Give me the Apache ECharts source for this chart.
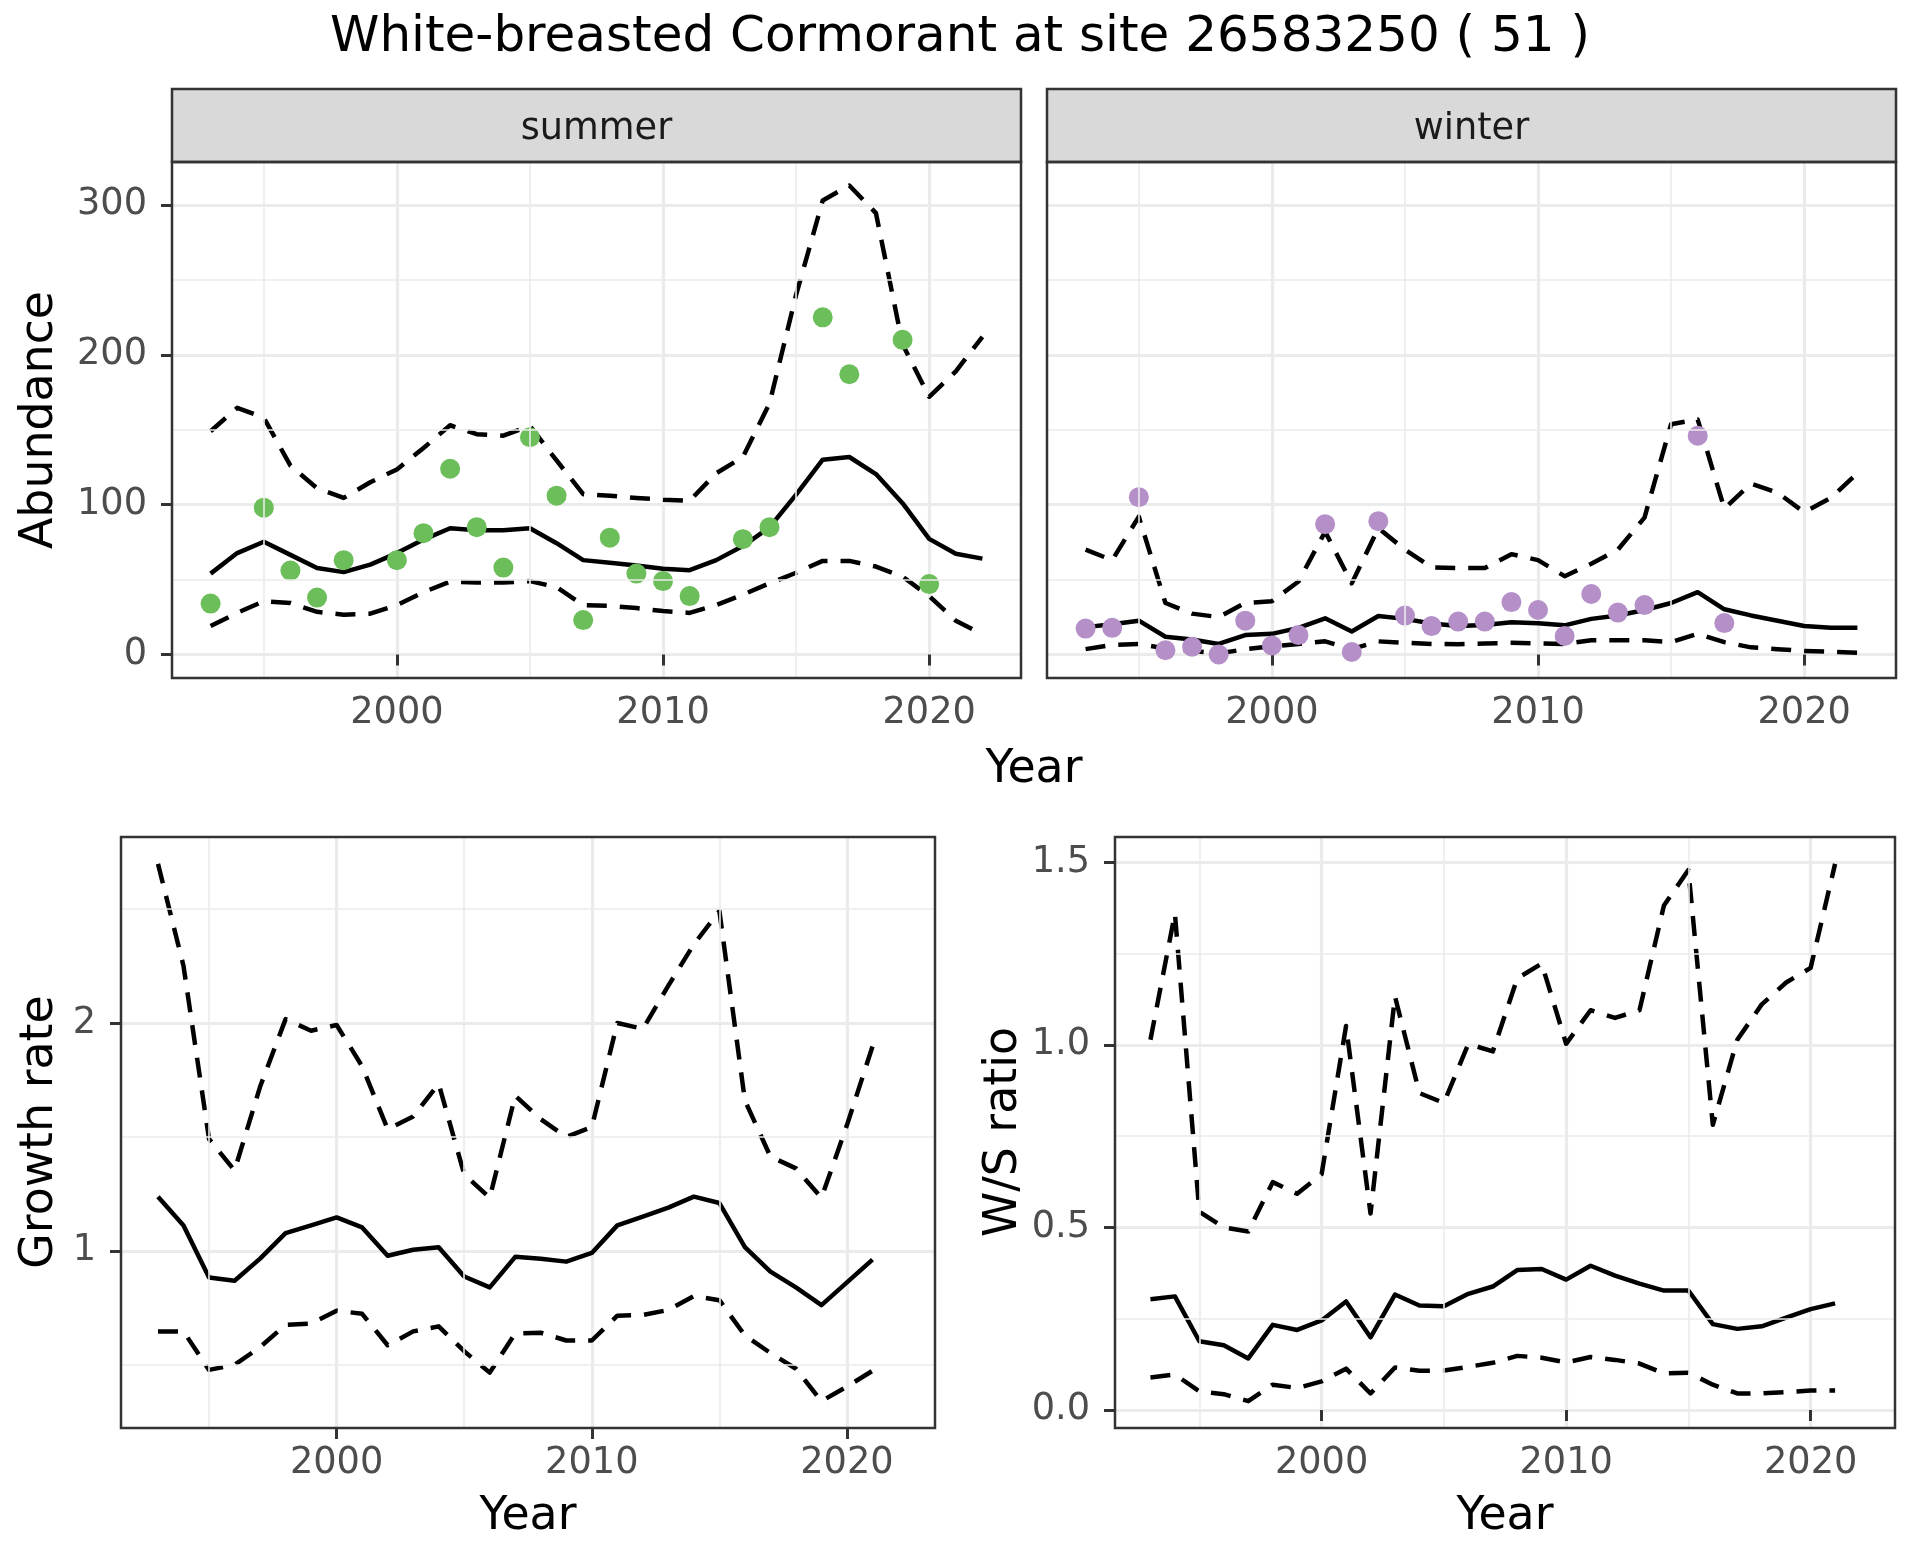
<!DOCTYPE html>
<html><head><meta charset="utf-8">
<script src="https://cdn.jsdelivr.net/npm/echarts@6/dist/echarts.min.js"></script>
<style>html,body{margin:0;padding:0;background:#fff}#c{width:1920px;height:1560px}</style>
</head><body><div id="c"></div>
<script>
// ---------- data ----------
const yearsAll = [1993,1994,1995,1996,1997,1998,1999,2000,2001,2002,2003,2004,2005,2006,2007,2008,2009,2010,2011,2012,2013,2014,2015,2016,2017,2018,2019,2020,2021,2022];
const yearsRate = [1993,1994,1995,1996,1997,1998,1999,2000,2001,2002,2003,2004,2005,2006,2007,2008,2009,2010,2011,2012,2013,2014,2015,2016,2017,2018,2019,2020,2021];

const summerPtYears = [1993,1995,1996,1997,1998,2000,2001,2002,2003,2004,2005,2006,2007,2008,2009,2010,2011,2013,2014,2016,2017,2019,2020];
const summerPtVals  = [34,98,56,38,63,63,81,124,85,58,145,106,23,78,54,49,39,77,85,225,187,210,47];
const summerMean  = [54,67.7,75.3,66.5,57.7,55,60,67.7,76.7,84.3,83,83,84.3,74.3,63,61.3,59.4,57.2,56.3,63,72.4,84.8,106.7,130,131.8,120.4,101,77.2,67.2,64];
const summerUpper = [149,164.6,158,126,111,104.5,115,123.5,137.8,153,147,146,152.5,129.5,107,106,104.5,103.3,102.6,121,131.8,167.5,240,303,313,294.5,207,172,189,212];
const summerLower = [19,27.8,35.6,34.4,28.5,26.6,27.3,33,41.6,48.7,48,48,49,45,33,32.5,31,29,27.8,33,40,47.5,54.6,62.5,62.5,58.7,52,39,22.6,13.5];

const winterPtYears = [1993,1994,1995,1996,1997,1998,1999,2000,2001,2002,2003,2004,2005,2006,2007,2008,2009,2010,2011,2012,2013,2014,2016,2017];
const winterPtVals  = [17.3,17.8,105,2.9,5.2,0,22.6,6,13,87,1.7,89,26,19,22,22,35,29.7,12.4,40.4,28,33,146,21];
const winterMean  = [18.3,20.2,22.6,11.9,10,7.1,13,13.8,17.8,24.2,15.4,25.7,23.8,20.7,19,19.7,21.6,20.9,19.5,23.8,26.1,29.7,34.4,41.6,30.2,26.1,22.6,19,17.8,17.8];
const winterUpper = [70,63,92,34.4,27.3,25,34.4,35.6,48.7,82,47.5,84.3,70,58.2,57.7,57.7,67,63,52.3,60.6,70,91.4,153.7,156.8,97.4,114,108,95,104.5,121];
const winterLower = [3.6,6.4,7.1,4,2.4,0.7,3.6,5.5,7.1,8.8,3.6,8.8,7.8,7.1,6.9,7.4,7.8,7.4,7.1,9.5,9.5,9.5,8.3,13.8,8.3,4.8,3.6,2.4,1.9,1.2];

const growthMean  = [1.238,1.112,0.883,0.869,0.966,1.078,1.112,1.147,1.103,0.979,1.005,1.016,0.888,0.84,0.974,0.966,0.953,0.991,1.112,1.15,1.19,1.238,1.21,1.017,0.909,0.84,0.762,0.862,0.962];
const growthUpper = [2.698,2.25,1.491,1.353,1.72,2.017,1.966,1.991,1.81,1.534,1.59,1.733,1.336,1.233,1.681,1.578,1.5,1.543,2.0,1.974,2.164,2.345,2.491,1.66,1.414,1.362,1.233,1.552,1.897];
const growthLower = [0.647,0.647,0.478,0.5,0.578,0.676,0.681,0.738,0.724,0.586,0.647,0.669,0.56,0.466,0.638,0.641,0.607,0.607,0.716,0.719,0.741,0.802,0.784,0.629,0.552,0.483,0.341,0.405,0.474];

const wsMean  = [0.303,0.311,0.188,0.177,0.141,0.233,0.219,0.245,0.297,0.199,0.316,0.286,0.284,0.318,0.338,0.383,0.386,0.357,0.395,0.368,0.346,0.327,0.327,0.235,0.222,0.229,0.253,0.276,0.292];
const wsUpper = [1.014,1.36,0.543,0.5,0.489,0.624,0.592,0.646,1.052,0.538,1.133,0.868,0.841,1.003,0.982,1.182,1.223,1.003,1.095,1.074,1.095,1.382,1.479,0.781,1.014,1.111,1.171,1.211,1.496];
const wsLower = [0.089,0.097,0.051,0.043,0.024,0.069,0.06,0.078,0.113,0.045,0.116,0.107,0.108,0.118,0.129,0.148,0.143,0.13,0.145,0.137,0.127,0.1,0.102,0.069,0.045,0.045,0.049,0.053,0.053];

// tick labels
const xMajor = [2000, 2010, 2020];
const xMinor = [1995, 2005, 2015];
const abMajor = [0, 100, 200, 300];
const abMinor = [50, 150, 250];
const grMajor = [1, 2];
const grMinor = [0.5, 1.5, 2.5];
const wsMajor = [0, 0.5, 1, 1.5];
const wsMinor = [0.25, 0.75, 1.25];

const titleText = 'White-breasted Cormorant at site 26583250 ( 51 )';
const stripLabels = ['summer', 'winter'];

// ---------- helpers ----------
const FONT = 'DejaVu Sans';
const GREEN = '#6CBE5A', PURPLE = '#B48FC8';
function expand(arrs) {
  let lo = Infinity, hi = -Infinity;
  arrs.forEach(a => a.forEach(v => { if (v < lo) lo = v; if (v > hi) hi = v; }));
  const p = (hi - lo) * 0.05;
  return [lo - p, hi + p];
}
const xr = expand([yearsAll]);
const abR = expand([summerPtVals, summerMean, summerUpper, summerLower, winterPtVals, winterMean, winterUpper, winterLower]);
const grR = expand([growthMean, growthUpper, growthLower]);
const wsR = expand([wsMean, wsUpper, wsLower]);

const grids = [
  {left: 172, top: 162, width: 849, height: 516},
  {left: 1047, top: 162, width: 849, height: 516},
  {left: 121, top: 837, width: 814, height: 591},
  {left: 1115, top: 837, width: 780, height: 591}
];

function xAxis(i) {
  return {
    type: 'value', gridIndex: i, min: xr[0], max: xr[1], splitNumber: 3,
    axisLine: {show: false},
    axisTick: {show: true, length: 11, customValues: xMajor, lineStyle: {color: '#333333', width: 3}},
    axisLabel: {show: true, customValues: xMajor,
      fontFamily: FONT, fontSize: 36.7, color: '#4D4D4D', margin: 17,
      formatter: v => String(Math.round(v))},
    splitLine: {show: true, lineStyle: {color: '#EBEBEB', width: 3.2}}
  };
}
function yAxis(i, r, major, split, showLab, fmt) {
  return {
    type: 'value', gridIndex: i, min: r[0], max: r[1], splitNumber: split,
    axisLine: {show: false},
    axisTick: {show: showLab, length: 11, customValues: major, lineStyle: {color: '#333333', width: 3}},
    axisLabel: {show: showLab, customValues: major,
      fontFamily: FONT, fontSize: 36.7, color: '#4D4D4D', margin: 25,
      formatter: fmt || (v => String(v))},
    splitLine: {show: true, lineStyle: {color: '#EBEBEB', width: 3.2}}
  };
}
function minorSeries(i, xm, ym) {
  return {
    type: 'line', xAxisIndex: i, yAxisIndex: i, data: [], z: 1, silent: true, animation: false,
    markLine: {
      silent: true, animation: false, symbol: ['none', 'none'], label: {show: false},
      lineStyle: {color: '#EBEBEB', width: 1.6, type: 'solid'},
      emphasis: {disabled: true},
      data: xm.map(v => ({xAxis: v})).concat(ym.map(v => ({yAxis: v})))
    }
  };
}
function lineSeries(i, xs, vals, dashed) {
  return {
    type: 'line', xAxisIndex: i, yAxisIndex: i, animation: false, silent: true,
    symbol: 'none', showSymbol: false, z: 3,
    lineStyle: {color: '#000000', width: 4.5, type: dashed ? [20, 13] : 'solid', cap: 'butt', join: 'round'},
    data: xs.map((x, k) => [x, vals[k]])
  };
}
function pointSeries(i, xs, vals, color) {
  return {
    type: 'scatter', xAxisIndex: i, yAxisIndex: i, animation: false, silent: true, z: 4,
    symbol: 'circle', symbolSize: 20, itemStyle: {color: color, opacity: 1},
    data: xs.map((x, k) => [x, vals[k]])
  };
}

const series = [
  minorSeries(0, xMinor, abMinor),
  minorSeries(1, xMinor, abMinor),
  minorSeries(2, xMinor, grMinor),
  minorSeries(3, xMinor, wsMinor),
  pointSeries(0, summerPtYears, summerPtVals, GREEN),
  lineSeries(0, yearsAll, summerMean, false),
  lineSeries(0, yearsAll, summerUpper, true),
  lineSeries(0, yearsAll, summerLower, true),
  pointSeries(1, winterPtYears, winterPtVals, PURPLE),
  lineSeries(1, yearsAll, winterMean, false),
  lineSeries(1, yearsAll, winterUpper, true),
  lineSeries(1, yearsAll, winterLower, true),
  lineSeries(2, yearsRate, growthMean, false),
  lineSeries(2, yearsRate, growthUpper, true),
  lineSeries(2, yearsRate, growthLower, true),
  lineSeries(3, yearsRate, wsMean, false),
  lineSeries(3, yearsRate, wsUpper, true),
  lineSeries(3, yearsRate, wsLower, true)
];

// graphics: title, strips, borders, axis titles
const graphic = [];
graphic.push({type: 'text', x: 960, y: 38, z: 100, style: {text: titleText, font: '50px "DejaVu Sans"', fill: '#000', align: 'center', verticalAlign: 'middle'}});
[0, 1].forEach(k => {
  const g = grids[k];
  graphic.push({type: 'rect', z: 100, shape: {x: g.left, y: 89, width: g.width, height: 73},
    style: {fill: '#D9D9D9', stroke: '#333333', lineWidth: 2.5}});
  graphic.push({type: 'text', z: 101, x: g.left + g.width / 2, y: 129,
    style: {text: stripLabels[k], font: '36.7px "DejaVu Sans"', fill: '#1A1A1A', align: 'center', verticalAlign: 'middle'}});
});
grids.forEach(g => {
  graphic.push({type: 'rect', z: 100, silent: true, shape: {x: g.left, y: g.top, width: g.width, height: g.height},
    style: {fill: 'none', stroke: '#333333', lineWidth: 2.5}});
});
function axTitle(text, x, y, rot) {
  return {type: 'text', z: 100, x: x, y: y, rotation: rot ? Math.PI / 2 : 0,
    style: {text: text, font: '45.8px "DejaVu Sans"', fill: '#000', align: 'center', verticalAlign: 'middle'}};
}
graphic.push(axTitle('Year', 1034, 770, false));
graphic.push(axTitle('Year', 528, 1517, false));
graphic.push(axTitle('Year', 1505, 1517, false));
graphic.push(axTitle('Abundance', 40, 420, true));
graphic.push(axTitle('Growth rate', 40, 1132, true));
graphic.push(axTitle('W/S ratio', 1004, 1132, true));

const chart = echarts.init(document.getElementById('c'), null, {renderer: 'canvas'});
chart.setOption({
  animation: false,
  backgroundColor: '#ffffff',
  textStyle: {fontFamily: FONT},
  grid: grids.map(g => Object.assign({show: false, containLabel: false}, g)),
  xAxis: [xAxis(0), xAxis(1), xAxis(2), xAxis(3)],
  yAxis: [
    yAxis(0, abR, abMajor, 4, true),
    yAxis(1, abR, abMajor, 4, false),
    yAxis(2, grR, grMajor, 3, true),
    yAxis(3, wsR, wsMajor, 3, true, v => v.toFixed(1))
  ],
  series: series,
  graphic: graphic
});
</script>
</body></html>
